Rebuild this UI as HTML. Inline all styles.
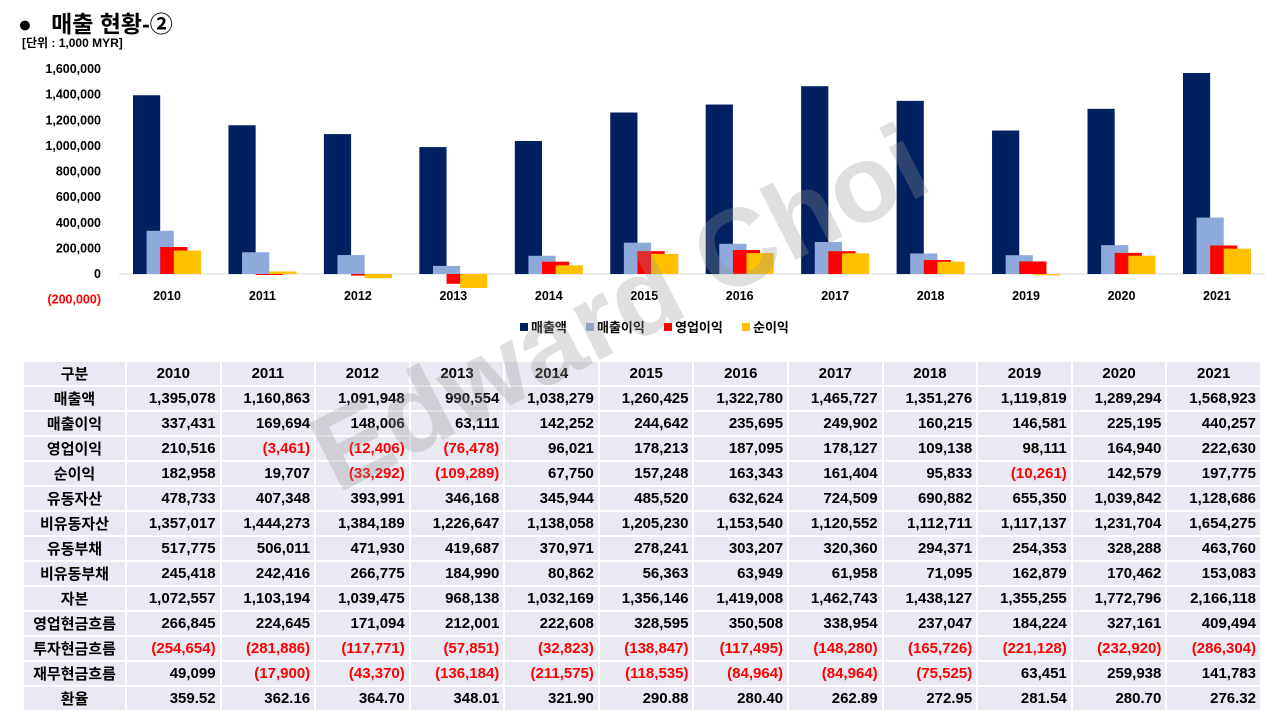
<!DOCTYPE html>
<html><head><meta charset="utf-8">
<style>
body{margin:0;width:1280px;height:720px;background:#fff;position:relative;overflow:hidden;font-family:"Liberation Sans","Noto Sans CJK KR",sans-serif;}
.title{position:absolute;left:18px;top:5px;font-size:23px;font-weight:bold;}
.unit{position:absolute;left:22px;top:34px;font-size:12px;font-weight:bold;}
svg.chart{position:absolute;left:0;top:0;}
table{position:absolute;left:22px;top:360px;border-collapse:collapse;font-weight:bold;font-size:15px;table-layout:fixed;width:1240px;}
td{background:#e9e9f3;border:2px solid #fff;height:23px;padding:0 4px;text-align:right;}
td.h{text-align:center;width:93px;}
tr.hd td{text-align:center;}
.neg{color:#ff0000;}
.wm{position:absolute;left:345px;top:400px;height:110px;line-height:110px;font-size:110px;font-weight:bold;color:rgba(150,150,150,0.3);transform:rotate(-27deg);transform-origin:0 100%;white-space:nowrap;pointer-events:none;}
</style></head><body>
<div class="title">●&nbsp;&nbsp; 매출 현황-②</div>
<div class="unit">[단위 : 1,000 MYR]</div>
<svg class="chart" id="chart" width="1280" height="350"></svg>
<table id="tbl"></table>
<div class="wm">Edward Choi</div>
<script>
const years=["2010","2011","2012","2013","2014","2015","2016","2017","2018","2019","2020","2021"];
const sales=[1395078,1160863,1091948,990554,1038279,1260425,1322780,1465727,1351276,1119819,1289294,1568923];
const gross=[337431,169694,148006,63111,142252,244642,235695,249902,160215,146581,225195,440257];
const opInc=[210516,-3461,-12406,-76478,96021,178213,187095,178127,109138,98111,164940,222630];
const netInc=[182958,19707,-33292,-109289,67750,157248,163343,161404,95833,-10261,142579,197775];
const yTicks=[-200000,0,200000,400000,600000,800000,1000000,1200000,1400000,1600000];
const seriesNames=["매출액","매출이익","영업이익","순이익"];
const colors=["#002060","#8eaadb","#ff0000","#ffc000"];
const NS="http://www.w3.org/2000/svg";
const svg=document.getElementById('chart');
const y=v=>274-v*(205/1600000);
const xc=i=>167+i*95.45;
function mk(t,a){const e=document.createElementNS(NS,t);for(const k in a)e.setAttribute(k,a[k]);svg.appendChild(e);return e;}
const fmt=v=>v<0?"("+Math.abs(v).toLocaleString("en-US")+")":v.toLocaleString("en-US");
yTicks.forEach(t=>{const e=mk('text',{x:101,y:y(t)+4,'text-anchor':'end','font-size':12.5,'font-weight':'bold',fill:t<0?'#ff0000':'#000'});e.textContent=fmt(t);

});
const base=mk('line',{x1:119,x2:1265,y1:y(0),y2:y(0),stroke:'#d9d9d9','stroke-width':1});


[sales,gross,opInc,netInc].forEach((s,si)=>{s.forEach((v,i)=>{const cx=xc(i)+(si-1.5)*13.6;const y0=y(0),y1=y(v);
const r=mk('rect',{x:cx-13.6,y:Math.min(y0,y1),width:27.2,height:Math.max(1,Math.abs(y1-y0)),fill:colors[si]});

});});
years.forEach((yr,i)=>{const e=mk('text',{x:xc(i),y:300,'text-anchor':'middle','font-size':12.5,'font-weight':'bold'});e.textContent=yr;

});
const lx=[520,586,664,742];
seriesNames.forEach((n,i)=>{const r=mk('rect',{x:lx[i],y:323,width:8,height:8,fill:colors[i]});


const t=mk('text',{x:lx[i]+11,y:332,'font-size':13,'font-weight':'bold'});t.textContent=n;

});
const rowNames=["매출액","매출이익","영업이익","순이익","유동자산","비유동자산","유동부채","비유동부채","자본","영업현금흐름","투자현금흐름","재무현금흐름","환율"];
const rows=[sales,gross,opInc,netInc,
[478733,407348,393991,346168,345944,485520,632624,724509,690882,655350,1039842,1128686],
[1357017,1444273,1384189,1226647,1138058,1205230,1153540,1120552,1112711,1117137,1231704,1654275],
[517775,506011,471930,419687,370971,278241,303207,320360,294371,254353,328288,463760],
[245418,242416,266775,184990,80862,56363,63949,61958,71095,162879,170462,153083],
[1072557,1103194,1039475,968138,1032169,1356146,1419008,1462743,1438127,1355255,1772796,2166118],
[266845,224645,171094,212001,222608,328595,350508,338954,237047,184224,327161,409494],
[-254654,-281886,-117771,-57851,-32823,-138847,-117495,-148280,-165726,-221128,-232920,-286304],
[49099,-17900,-43370,-136184,-211575,-118535,-84964,-84964,-75525,63451,259938,141783],
[359.52,362.16,364.70,348.01,321.90,290.88,280.40,262.89,272.95,281.54,280.70,276.32]];
const tbl=document.getElementById('tbl');
let h='<tr class="hd"><td class="h">구분</td>'+years.map(y=>'<td>'+y+'</td>').join('')+'</tr>';
rows.forEach((r,ri)=>{h+='<tr><td class="h">'+rowNames[ri]+'</td>'+r.map(v=>{const s=ri==12?v.toFixed(2):fmt(v);return '<td'+(v<0?' class="neg"':'')+'>'+s+'</td>';}).join('')+'</tr>';});
tbl.innerHTML=h;
</script>
</body></html>
